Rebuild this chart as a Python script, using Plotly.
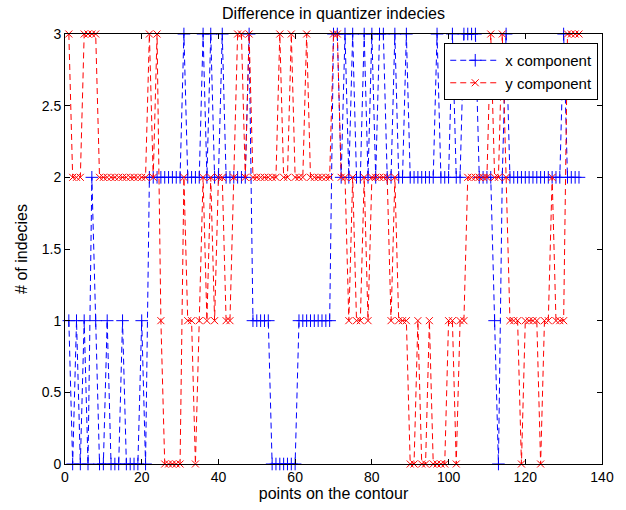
import plotly.graph_objects as go

# Index of each point along the contour
points = list(range(1, 135))

# Quantizer index difference, x component (134 points)
x_comp = [
    1, 0, 1, 0, 1, 0, 2, 1, 0, 0, 1, 0, 0, 0, 1, 0, 0, 0, 0, 1,
    0, 2, 2, 2, 2, 2, 2, 2, 2, 2, 3, 2, 2, 2, 2, 3, 2, 3, 2, 2,
    3, 2, 2, 2, 2, 2, 2, 3, 1, 1, 1, 1, 1, 0, 0, 0, 0, 0, 0, 0,
    1, 1, 1, 1, 1, 1, 1, 1, 1, 3, 3, 2, 3, 2, 3, 2, 2, 3, 2, 3,
    2, 3, 3, 2, 2, 3, 2, 2, 3, 2, 2, 2, 2, 2, 2, 2, 3, 2, 2, 2,
    3, 2, 2, 3, 3, 3, 3, 2, 2, 2, 2, 1, 0, 2, 3, 2, 2, 2, 2, 2,
    2, 2, 2, 2, 2, 2, 2, 2, 2, 3, 2, 2, 2, 2,
]

# Quantizer index difference, y component (134 points)
y_comp = [
    3, 2, 2, 2, 3, 3, 3, 3, 2, 2, 2, 2, 2, 2, 2, 2, 2, 2, 2, 2,
    2, 3, 2, 3, 1, 0, 0, 0, 0, 0, 2, 1, 1, 0, 1, 2, 1, 2, 1, 2,
    2, 1, 1, 2, 3, 3, 2, 3, 2, 2, 2, 2, 2, 2, 2, 3, 2, 2, 3, 2,
    2, 2, 3, 2, 2, 2, 2, 2, 2, 3, 3, 2, 2, 1, 2, 1, 1, 2, 1, 2,
    2, 2, 2, 2, 1, 2, 1, 1, 1, 0, 0, 1, 0, 0, 1, 0, 0, 0, 0, 1,
    1, 0, 1, 1, 2, 2, 2, 2, 2, 2, 3, 2, 2, 3, 2, 1, 1, 1, 0, 1,
    1, 1, 1, 0, 1, 1, 2, 1, 1, 1, 3, 3, 3, 3,
]

x_ticks = [0, 20, 40, 60, 80, 100, 120, 140]
y_ticks = [0, 0.5, 1, 1.5, 2, 2.5, 3]

BLUE = "#0000ff"
RED = "#ff0000"
FONT = "Liberation Sans, Arial, sans-serif"

fig = go.Figure()
fig.add_trace(go.Scatter(
    x=points, y=x_comp, name="x component", mode="lines+markers",
    line=dict(color=BLUE, width=1, dash="6px,4px"),
    marker=dict(symbol="cross-thin", size=9, color=BLUE,
                line=dict(color=BLUE, width=1)),
    cliponaxis=False,
))
fig.add_trace(go.Scatter(
    x=points, y=y_comp, name="y component", mode="lines+markers",
    line=dict(color=RED, width=1, dash="6px,4px"),
    marker=dict(symbol="x-thin", size=7, color=RED,
                line=dict(color=RED, width=1)),
    cliponaxis=False,
))

axis_common = dict(
    showline=True, linecolor="black", linewidth=1, mirror="ticks",
    ticks="inside", ticklen=5, tickcolor="black", tickwidth=1,
    showgrid=False, zeroline=False,
    tickfont=dict(family=FONT, size=14, color="black"),
)

fig.update_layout(
    width=626, height=510,
    margin=dict(l=65, r=16, t=34, b=46),
    paper_bgcolor="white", plot_bgcolor="white",
    font=dict(family=FONT, size=14, color="black"),
    title=dict(text="Difference in quantizer indecies", x=0.5, xref="paper",
               y=1 - 13 / 510, yref="container", yanchor="middle",
               xanchor="center", font=dict(family=FONT, size=16, color="black")),
    xaxis=dict(range=[0, 140], tickvals=x_ticks,
               title=dict(text="points on the contour", standoff=2,
                          font=dict(family=FONT, size=16)),
               **axis_common),
    yaxis=dict(range=[0, 3], tickvals=y_ticks,
               title=dict(text="# of indecies", standoff=10,
                          font=dict(family=FONT, size=16)),
               **axis_common),
    legend=dict(x=0.993, y=0.979, xanchor="right", yanchor="top",
                bgcolor="white", bordercolor="black", borderwidth=1,
                font=dict(family=FONT, size=15, color="black"),
                itemwidth=50, tracegroupgap=0),
    showlegend=True,
)

fig.write_html("out.html")
